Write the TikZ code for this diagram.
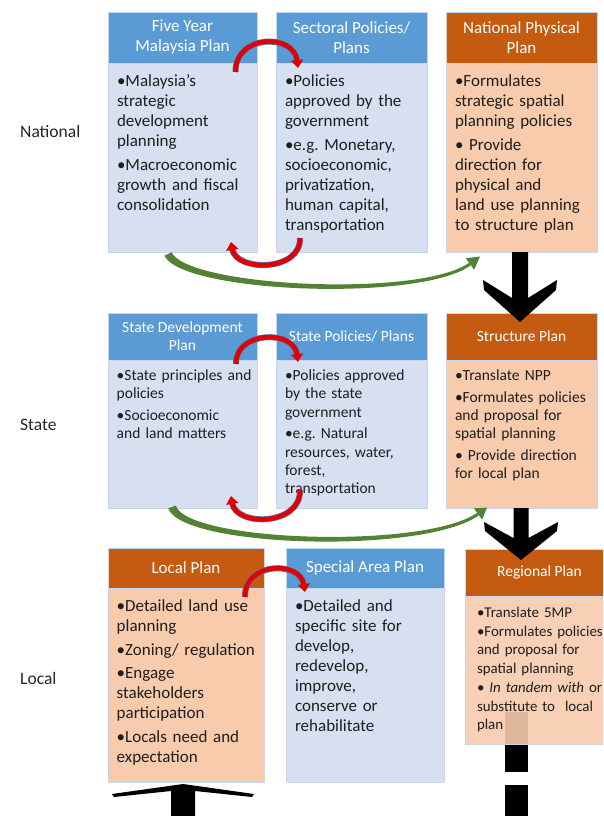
\documentclass[tikz,border=0pt]{standalone}
\usepackage{fontspec}
\setmainfont{Carlito}
\usetikzlibrary{arrows.meta,calc}

\definecolor{hdblue}{HTML}{5B9BD5}
\definecolor{bdblue}{HTML}{D6E0F1}
\definecolor{hdorange}{HTML}{C55A11}
\definecolor{bdorange}{HTML}{F8CBAD}
\definecolor{edgec}{HTML}{C5D6EE}
\definecolor{arcred}{HTML}{E00000}
\definecolor{arcrim}{HTML}{5A6FA0}
\definecolor{grn}{HTML}{548235}
\definecolor{ink}{HTML}{1E1E1E}
\definecolor{lblc}{HTML}{262626}

% bullet items with hanging indent; lines are broken by hand
\newlength\bulw
\newcommand\bfirst{\settowidth\bulw{•}\hangindent=\bulw\hangafter=1•}
\newcommand\bitem{\par\settowidth\bulw{•}\hangindent=\bulw\hangafter=1\noindent•}
\newcommand\gap[1]{\setlength\parskip{#1}\frenchspacing}
\newcommand\fbig{\fontsize{17}{20}\selectfont}
\newcommand\fsmall{\fontsize{15.5}{18.3}\selectfont}
\newcommand\freg{\fontsize{14.9}{18.6}\selectfont}

% header + body of one plan box
% #1 name, #2 x1, #3 y1, #4 y of header bottom, #5 x2, #6 y2, #7 colour set, #8 font, #9 title
\newcommand\planbox[9]{%
  \node[head#7, font=#8, minimum width={(#5)-(#2)}, minimum height={(#4)-(#3)}] (#1-h) at (#2,#3) {#9};
  \node[body#7, minimum width={(#5)-(#2)}, minimum height={(#6)-(#4)}] (#1-b) at (#2,#4) {};
}

\begin{document}
\begin{tikzpicture}[x=1pt,y=-1pt,
  box/.style={rectangle, inner sep=0pt, outer sep=0pt, draw=edgec, line width=0.6pt, anchor=north west},
  headB/.style={box, fill=hdblue, text=white, align=center},
  bodyB/.style={box, fill=bdblue},
  headO/.style={box, fill=hdorange, text=white, align=center},
  bodyO/.style={box, fill=bdorange},
  headOt/.style={headO},
  bodyOt/.style={box, fill=bdorange, fill opacity=0.9},
  btext/.style={anchor=base west, inner sep=0pt, outer sep=0pt, text width=190pt, text=ink},
  lbl/.style={anchor=base west, inner sep=0pt, text=lblc, font=\fontsize{17.5}{20}\selectfont},
  redarc/.style={draw=arcred, line width=4.5pt, -{Triangle[width=12pt,length=8pt]}},
  redrim/.style={draw=arcrim, line width=6pt, shorten >=7pt},
]
\useasboundingbox (0,0) rectangle (603,816);
\fill[white] (0,0) rectangle (603,816);
\clip (0,0) rectangle (603,816);

% dashed link below the regional plan (runs behind its body)
\coordinate (d0) at (516.5,712);
\coordinate (d1) at (516.5,850);
\draw[line width=23pt, dash pattern=on 60pt off 13pt] (d0) -- (d1);

% ---- national level
\planbox{fyp}{108}{12}{63}{257}{252}{B}{\fbig}{Five Year\\Malaysia Plan}
\planbox{sec}{276}{12}{63}{427}{252}{B}{\fbig}{Sectoral Policies/\\Plans}
\planbox{npp}{446}{12}{63}{597}{252}{O}{\fbig}{National Physical\\Plan}
% ---- state level
\planbox{sdp}{108}{313}{360}{257}{508}{B}{\fsmall}{State Development\\Plan}
\planbox{spp}{276}{313}{360}{427}{508}{B}{\fsmall}{State Policies/ Plans}
\planbox{sp}{446}{313}{360}{597}{508}{O}{\fsmall}{Structure Plan}
% ---- local level
\planbox{lp}{108}{548}{588}{264}{782}{O}{\fbig}{Local Plan}
\planbox{sap}{286}{548}{588}{444}{782}{B}{\fbig}{Special Area Plan}
\planbox{rp}{465}{549}{596}{614}{744}{Ot}{\fsmall}{Regional Plan}

% ---- box contents
\node[btext, font=\fbig] (fyp-t) at (117,86.7)
  {\gap{3.5pt}\bfirst Malaysia’s\\strategic\\development\\planning\bitem Macroeconomic\\growth and fiscal\\consolidation};
\node[btext, font=\fbig] (sec-t) at (285,86.7)
  {\gap{3.5pt}\bfirst Policies\\approved by the\\government\bitem e.g. Monetary,\\socioeconomic,\\privatization,\\human capital,\\transportation};
\node[btext, font=\fbig] (npp-t) at (455,86.7)
  {\gap{3.5pt}\bfirst Formulates\\strategic spatial\\planning policies\bitem\ Provide\\direction for\\physical and\\land use planning\\to structure plan};

\node[btext, font=\fsmall] (sdp-t) at (116.7,380.5)
  {\gap{3.4pt}\bfirst State principles and\\policies\bitem Socioeconomic\\and land matters};
\node[btext, font=\fsmall] (spp-t) at (285,380.5)
  {\gap{3.4pt}\bfirst Policies approved\\by the state\\government\bitem e.g. Natural\\resources, water,\\forest,\\transportation};
\node[btext, font=\fsmall] (sp-t) at (455,380.5)
  {\gap{3.4pt}\bfirst Translate NPP\bitem Formulates policies\\and proposal for\\spatial planning\bitem\ Provide direction\\for local plan};

\node[btext, font=\fbig] (lp-t) at (116.7,611.7)
  {\gap{3.5pt}\bfirst Detailed land use\\planning\bitem Zoning/ regulation\bitem Engage\\stakeholders\\participation\bitem Locals need and\\expectation};
\node[btext, font=\fbig] (sap-t) at (295,611.7)
  {\gap{3.5pt}\bfirst Detailed and\\specific site for\\develop,\\redevelop,\\improve,\\conserve or\\rehabilitate};
\node[btext, font=\freg] (rp-t) at (477,617)
  {\gap{0.5pt}\bfirst Translate 5MP\bitem Formulates policies\\and proposal for\\spatial planning\bitem\ \textit{In tandem with} or\\substitute to\ \ local\\plan};

% ---- level labels
\node[lbl] (nat) at (20,137.7) {National};
\node[lbl] (sta) at (20,430) {State};
\node[lbl] (loc) at (20,684) {Local};

% ---- red exchange arcs
\coordinate (r1s) at ($(fyp-h.south east)+(-21.5,9)$);
\coordinate (r1e) at ($(sec-h.south west)+(22,5)$);
\draw[redrim] (r1s) .. controls +(-0.5,-38) and +(-4,-35) .. (r1e);
\draw[redarc] (r1s) .. controls +(-0.5,-38) and +(-4,-35) .. (r1e);
\coordinate (r2s) at ($(sec-b.south west)+(24,-14)$);
\coordinate (r2e) at ($(fyp-b.south east)+(-26,-10)$);
\draw[redrim] (r2s) .. controls +(1,34) and +(5,30) .. (r2e);
\draw[redarc] (r2s) .. controls +(1,34) and +(5,30) .. (r2e);

\coordinate (r3s) at ($(sdp-h.south east)+(-21,4)$);
\coordinate (r3e) at ($(spp-h.south west)+(22,2)$);
\draw[redrim] (r3s) .. controls +(-1,-33) and +(-4,-33) .. (r3e);
\draw[redarc] (r3s) .. controls +(-1,-33) and +(-4,-33) .. (r3e);
\coordinate (r4s) at ($(spp-b.south west)+(24,-18)$);
\coordinate (r4e) at ($(sdp-b.south east)+(-26,-12)$);
\draw[redrim] (r4s) .. controls +(1,36) and +(5,31) .. (r4e);
\draw[redarc] (r4s) .. controls +(1,36) and +(5,31) .. (r4e);

\coordinate (r5s) at ($(lp-h.south east)+(-19,9)$);
\coordinate (r5e) at ($(sap-h.south west)+(19,4)$);
\draw[redrim] (r5s) .. controls +(-1,-35) and +(-5,-32) .. (r5e);
\draw[redarc] (r5s) .. controls +(-1,-35) and +(-5,-32) .. (r5e);

% ---- green tapering arrows
\coordinate (gA) at ($(fyp-b.south west)+(60,2)$);
\coordinate (gB) at ($(npp-b.south west)+(24,12)$);
\fill[grn] ($(gA)+(3.6,-1.7)$) .. controls ($(gA)+(20,33)$) and ($(gB)+(-50,34)$) .. ($(gB)+(-0.9,-1.2)$)
  -- ($(gB)+(0.9,1.2)$) .. controls ($(gB)+(-50,38.5)$) and ($(gA)+(14,39)$) .. ($(gA)+(-3.6,1.7)$) -- cycle;
\fill[grn] ($(gB)+(10,-7.5)$) -- ($(gB)+(4.1,5.7)$) -- ($(gB)+(-4.1,-5.7)$) -- cycle;

\coordinate (hA) at ($(sdp-b.south west)+(64,-1)$);
\coordinate (hB) at ($(sp-b.south west)+(32,6)$);
\fill[grn] ($(hA)+(3.8,-1.3)$) .. controls ($(hA)+(16,35)$) and ($(hB)+(-53,35.5)$) .. ($(hB)+(-0.9,-1.2)$)
  -- ($(hB)+(0.9,1.2)$) .. controls ($(hB)+(-53,40.5)$) and ($(hA)+(10,41)$) .. ($(hA)+(-3.8,1.3)$) -- cycle;
\fill[grn] ($(hB)+(9,-6.4)$) -- ($(hB)+(4.1,5.7)$) -- ($(hB)+(-4.1,-5.7)$) -- cycle;

% ---- black block arrows
\coordinate (k1) at ($(npp-b.south)+(-1.5,0)$);
\begin{scope}[shift={(k1)}]
  \fill[black] (-8,0) -- (-8,46) -- (-37,28) -- (-36,38) -- (0,70) -- (36,38) -- (37,28) -- (8,46) -- (8,0) -- cycle;
\end{scope}
\coordinate (k2) at ($(sp-b.south)+(-0.5,0)$);
\begin{scope}[shift={(k2)}]
  \fill[black] (-7.5,0) -- (-7.5,30) -- (-37,14) -- (-36,23) -- (0,52) -- (36,23) -- (37,14) -- (7.5,30) -- (7.5,0) -- cycle;
\end{scope}
\coordinate (k3) at ($(lp-b.south)+(-3,34)$);
\begin{scope}[shift={(k3)}]
  \fill[black] (-12,0) -- (-12,-25) -- (-69,-19) -- (-71,-22) -- (0,-32) -- (71,-22) -- (69,-19) -- (12,-25) -- (12,0) -- cycle;
\end{scope}
\end{tikzpicture}
\end{document}
